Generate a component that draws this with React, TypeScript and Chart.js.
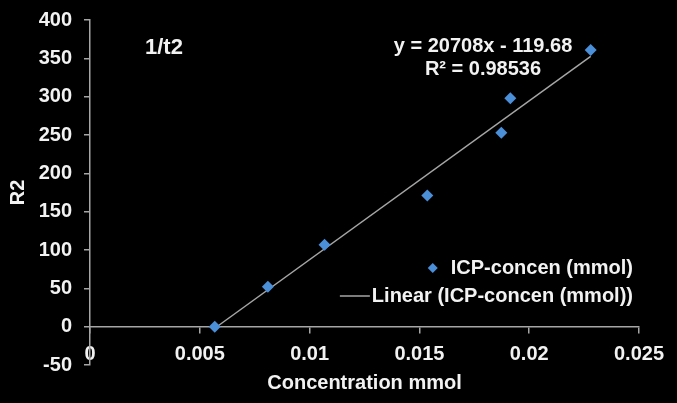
import React, { useEffect, useRef } from "react";
import { Chart, registerables } from "chart.js";

Chart.register(...registerables);

// ---- data ----
const concentration = [0.00568, 0.0081, 0.01068, 0.01536, 0.01873, 0.01914, 0.0228];
const r2Values = [0, 52, 107, 171, 253, 298, 361];
const xTickValues = [0, 0.005, 0.01, 0.015, 0.02, 0.025];
const yTickValues = [-50, 0, 50, 100, 150, 200, 250, 300, 350, 400];
const trendSlope = 20708;
const trendIntercept = -119.68;
const trendRSquared = 0.98536;
const seriesLabel = "ICP-concen (mmol)";
const trendLabel = "Linear (ICP-concen (mmol))";
const chartTitle = "1/t2";
const xAxisTitle = "Concentration mmol";
const yAxisTitle = "R2";

const FONT = "'Liberation Sans', Arial, sans-serif";
const TEXT = "#f2f2f2";
const AXIS = "#a6a6a6";
const POINT = "#4a8fd8";

const overlayPlugin = {
  id: "overlay",
  afterDraw(chart: any) {
    const { ctx, chartArea } = chart;
    ctx.save();
    ctx.fillStyle = TEXT;
    ctx.textBaseline = "middle";
    // title
    ctx.font = `bold 22px ${FONT}`;
    ctx.textAlign = "left";
    ctx.fillText(chartTitle, chartArea.left + 55, chartArea.top + 28);
    // equation
    ctx.font = `bold 20px ${FONT}`;
    ctx.textAlign = "center";
    const sign = trendIntercept < 0 ? "-" : "+";
    ctx.fillText(
      `y = ${trendSlope}x ${sign} ${Math.abs(trendIntercept)}`,
      chartArea.left + 393,
      chartArea.top + 26
    );
    ctx.fillText(`R² = ${trendRSquared}`, chartArea.left + 393, chartArea.top + 49);
    // legend
    const rightX = chartArea.right - 6;
    const y1 = chartArea.top + 248;
    const y2 = chartArea.top + 276;
    ctx.textAlign = "right";
    ctx.fillText(seriesLabel, rightX, y1);
    ctx.fillText(trendLabel, rightX, y2);
    const w1 = ctx.measureText(seriesLabel).width;
    const w2 = ctx.measureText(trendLabel).width;
    const dx = rightX - w1 - 18;
    ctx.fillStyle = POINT;
    ctx.beginPath();
    ctx.moveTo(dx, y1 - 5);
    ctx.lineTo(dx + 5, y1);
    ctx.lineTo(dx, y1 + 5);
    ctx.lineTo(dx - 5, y1);
    ctx.closePath();
    ctx.fill();
    const lx = rightX - w2 - 2;
    ctx.strokeStyle = AXIS;
    ctx.lineWidth = 1.5;
    ctx.beginPath();
    ctx.moveTo(lx - 30, y2);
    ctx.lineTo(lx, y2);
    ctx.stroke();
    ctx.restore();
  },
};

export default function App() {
  const canvasRef = useRef<HTMLCanvasElement | null>(null);

  useEffect(() => {
    document.body.style.margin = "0";
    document.body.style.background = "#000";
    const canvas = canvasRef.current;
    if (!canvas) return;

    const points = concentration.map((x, i) => ({ x, y: r2Values[i] }));
    const xMin = Math.min(...concentration);
    const xMax = Math.max(...concentration);
    const trend = [
      { x: xMin, y: trendSlope * xMin + trendIntercept },
      { x: xMax, y: trendSlope * xMax + trendIntercept },
    ];

    const chart = new Chart(canvas, {
      type: "scatter",
      data: {
        datasets: [
          {
            label: seriesLabel,
            data: points,
            pointStyle: "rectRot",
            pointRadius: 6,
            backgroundColor: POINT,
            borderColor: POINT,
            borderWidth: 0,
            showLine: false,
          },
          {
            label: trendLabel,
            data: trend,
            showLine: true,
            pointRadius: 0,
            borderColor: AXIS,
            borderWidth: 1.5,
            fill: false,
          },
        ],
      },
      options: {
        responsive: false,
        animation: false,
        devicePixelRatio: 1,
        layout: { padding: { top: 20, right: 38, left: 0, bottom: 38 } },
        plugins: {
          legend: { display: false },
          tooltip: { enabled: false },
        },
        scales: {
          x: {
            type: "linear",
            position: { y: 0 } as any,
            min: xTickValues[0],
            max: xTickValues[xTickValues.length - 1],
            afterBuildTicks(scale: any) {
              scale.ticks = xTickValues.map((v) => ({ value: v }));
            },
            afterFit(scale: any) {
              scale.height = 38;
              scale.paddingTop = 0;
              scale.paddingBottom = 0;
              scale.paddingLeft = 0;
              scale.paddingRight = 0;
            },
            ticks: {
              color: TEXT,
              font: { family: FONT, size: 20, weight: "bold" },
              padding: 10,
              maxRotation: 0,
              autoSkip: false,
              callback: (v: any) => String(Number(Number(v).toFixed(4))),
            },
            grid: {
              drawOnChartArea: false,
              drawTicks: true,
              tickLength: 6,
              color: AXIS,
              lineWidth: 1.5,
            },
            border: { display: true, color: AXIS, width: 1.5 },
            title: {
              display: true,
              text: xAxisTitle,
              color: TEXT,
              font: { family: FONT, size: 20, weight: "bold" },
              padding: { top: 0, bottom: -31 },
            },
          },
          y: {
            type: "linear",
            position: "left",
            min: yTickValues[0],
            max: yTickValues[yTickValues.length - 1],
            afterBuildTicks(scale: any) {
              scale.ticks = yTickValues.map((v) => ({ value: v }));
            },
            afterFit(scale: any) {
              scale.width = 90;
              scale.paddingTop = 0;
              scale.paddingBottom = 0;
            },
            ticks: {
              color: TEXT,
              font: { family: FONT, size: 20, weight: "bold" },
              padding: 12,
              autoSkip: false,
            },
            grid: {
              drawOnChartArea: false,
              drawTicks: true,
              tickLength: 6,
              color: AXIS,
              lineWidth: 1.5,
            },
            border: { display: true, color: AXIS, width: 1.5 },
            title: {
              display: true,
              text: yAxisTitle,
              color: TEXT,
              font: { family: FONT, size: 20, weight: "bold" },
              padding: { top: 6, bottom: 0 },
            },
          },
        },
      },
      plugins: [overlayPlugin],
    });

    return () => chart.destroy();
  }, []);

  return (
    <div style={{ width: 677, height: 403, background: "#000" }}>
      <canvas ref={canvasRef} width={677} height={403} style={{ display: "block" }} />
    </div>
  );
}
